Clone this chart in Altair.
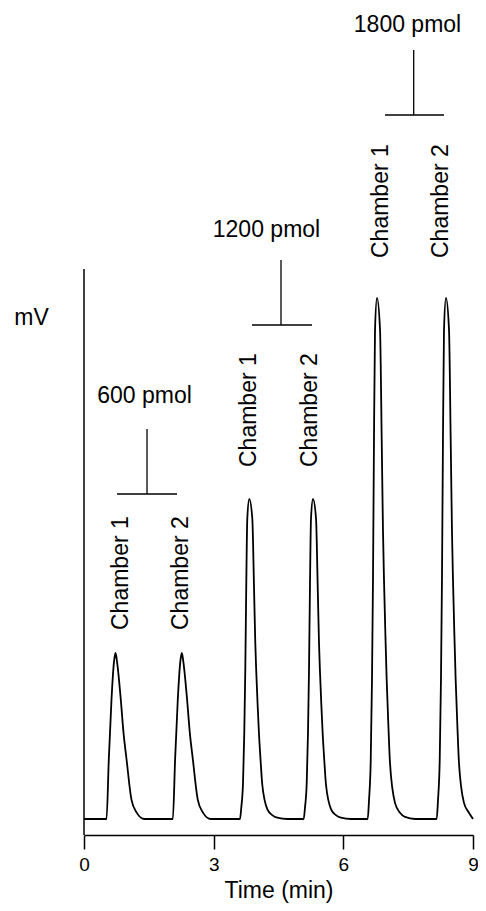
import altair as alt
import pandas as pd

FONT = "Liberation Sans"

# Peak apex times (min) and heights (mV, arbitrary units above baseline)
peak_times = [0.729, 2.263, 3.824, 5.298, 6.779, 8.375]
peak_heights = [166, 166, 320, 320, 521, 521]
peak_profile = ["small", "small", "large", "large", "large", "large"]

# Peak shape profiles: offset from apex (min), fraction of apex height
small_offsets = [-0.208, -0.155, -0.093, -0.034, 0.0, 0.034, 0.122, 0.185, 0.255, 0.370, 0.486, 0.671]
small_fracs = [0.0, 0.36, 0.72, 0.95, 1.0, 0.95, 0.72, 0.52, 0.36, 0.115, 0.04, 0.0]
large_offsets = [-0.215, -0.185, -0.145, -0.116, -0.093, -0.070, -0.046, 0.0, 0.070, 0.109,
                 0.138, 0.162, 0.192, 0.224, 0.263, 0.301, 0.416, 0.532, 0.648, 0.879]
large_fracs = [0.0, 0.036, 0.113, 0.267, 0.459, 0.727, 0.939, 1.0, 0.939, 0.727,
               0.555, 0.459, 0.36, 0.267, 0.18, 0.107, 0.031, 0.012, 0.004, 0.0]

trace_start = 0.0
trace_end = 9.0

# Annotation text
dose_labels = ["600 pmol", "1200 pmol", "1800 pmol"]
dose_text_t = [1.400, 4.222, 7.485]
dose_text_v = [416, 582, 787]
bracket_mid_t = [1.458, 4.558, 7.628]
bracket_left_t = [0.763, 3.887, 6.964]
bracket_right_t = [2.152, 5.275, 8.329]
bracket_low_v = [325, 494, 704]
bracket_high_v = [390, 559, 769]

chamber_labels = ["Chamber 1", "Chamber 2", "Chamber 1", "Chamber 2", "Chamber 1", "Chamber 2"]
chamber_t = [1.018, 2.406, 3.979, 5.391, 7.034, 8.422]
chamber_v = [189, 189, 352, 352, 561, 561]

x_ticks = [0, 3, 6, 9]
y_axis_bottom = -16
y_axis_top = 550
y_domain = [-16, 811]

# ---- build tables ----
rows = [{"t": trace_start, "v": 0.0}]
for t0, h, prof in zip(peak_times, peak_heights, peak_profile):
    offs, fr = (small_offsets, small_fracs) if prof == "small" else (large_offsets, large_fracs)
    for o, f in zip(offs, fr):
        if t0 + o < trace_end:
            rows.append({"t": t0 + o, "v": h * f})
rows.append({"t": trace_end, "v": 0.0})
trace = pd.DataFrame(rows)

xscale = alt.Scale(domain=[0, 9], nice=False, zero=False)
yscale = alt.Scale(domain=y_domain, nice=False, zero=False)

xaxis = alt.Axis(values=x_ticks, title="Time (min)", grid=False,
                 labelFont=FONT, labelFontSize=19, labelColor="black",
                 labelPadding=6, labelFlush=False,
                 tickSize=14, tickColor="black", tickWidth=1.5,
                 domainColor="black", domainWidth=1.5,
                 titleFont=FONT, titleFontSize=23, titleFontWeight="normal",
                 titleColor="black", titleY=62, titleBaseline="alphabetic")

line = alt.Chart(trace).mark_line(color="black", strokeWidth=1.8, interpolate="monotone").encode(
    x=alt.X("t:Q", scale=xscale, axis=xaxis),
    y=alt.Y("v:Q", scale=yscale, axis=None),
    order="t:Q",
)

yaxis_df = pd.DataFrame({"t": [0.0], "v0": [y_axis_bottom], "v1": [y_axis_top]})
yaxis_rule = alt.Chart(yaxis_df).mark_rule(color="black", strokeWidth=1.5).encode(
    x="t:Q", y="v0:Q", y2="v1:Q")

mv_df = pd.DataFrame({"t": [-1.215], "v": [494], "label": ["mV"]})
mv_text = alt.Chart(mv_df).mark_text(font=FONT, fontSize=23, color="black",
                                      align="center", baseline="alphabetic").encode(
    x="t:Q", y="v:Q", text="label:N")

br = pd.DataFrame({"mid": bracket_mid_t, "left": bracket_left_t, "right": bracket_right_t,
                   "low": bracket_low_v, "high": bracket_high_v,
                   "label": dose_labels, "tt": dose_text_t, "tv": dose_text_v})
br_vert = alt.Chart(br).mark_rule(color="black", strokeWidth=1.3).encode(
    x="mid:Q", y="low:Q", y2="high:Q")
br_horiz = alt.Chart(br).mark_rule(color="black", strokeWidth=1.3).encode(
    x="left:Q", x2="right:Q", y="low:Q")
dose_text = alt.Chart(br).mark_text(font=FONT, fontSize=23, color="black",
                                    align="center", baseline="alphabetic").encode(
    x="tt:Q", y="tv:Q", text="label:N")

ch = pd.DataFrame({"t": chamber_t, "v": chamber_v, "label": chamber_labels})
ch_text = alt.Chart(ch).mark_text(font=FONT, fontSize=23, color="black", angle=270,
                                  align="left", baseline="alphabetic").encode(
    x="t:Q", y="v:Q", text="label:N")

chart = alt.layer(line, yaxis_rule, mv_text, br_vert, br_horiz, dose_text, ch_text).properties(
    width=389, height=827,
    autosize=alt.AutoSizeParams(type="none"),
    padding={"left": 76, "top": 0, "right": 5, "bottom": 68},
).configure(font=FONT).configure_view(strokeWidth=0)

chart.save("out.html", embed_options={"renderer": "svg", "actions": False})
